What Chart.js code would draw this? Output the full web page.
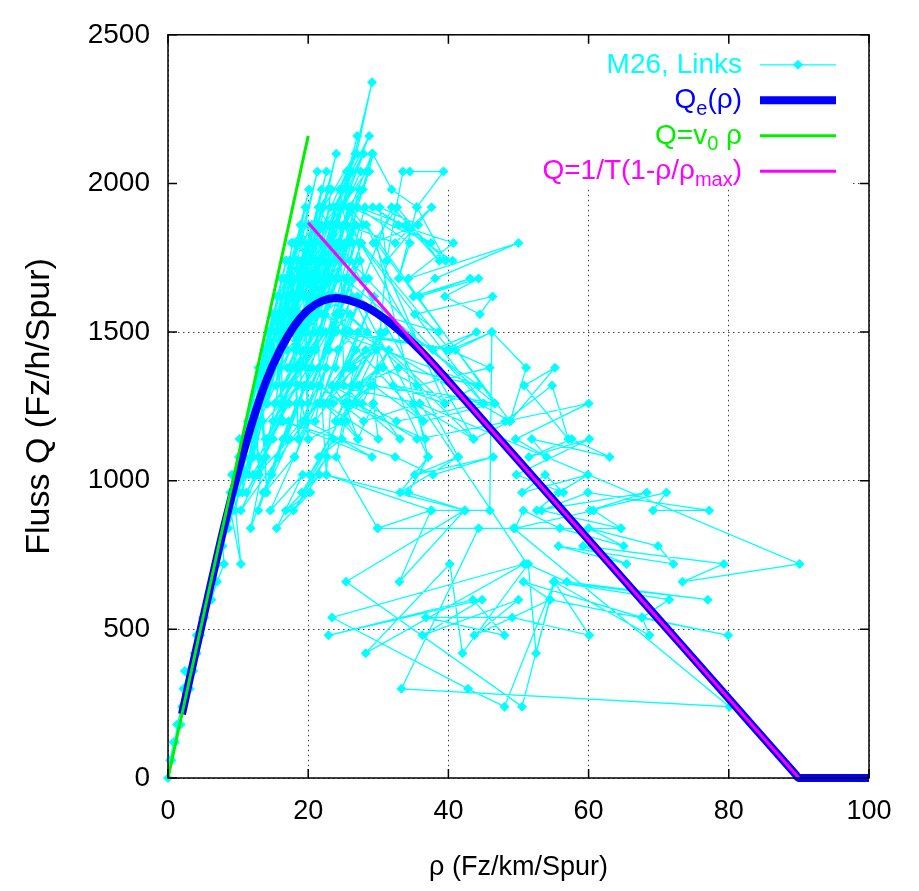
<!DOCTYPE html>
<html>
<head>
<meta charset="utf-8">
<script src="https://cdn.jsdelivr.net/npm/chart.js@4.4.1/dist/chart.umd.min.js"></script>
<style>
  html, body { margin: 0; padding: 0; background: #fff; }
  #wrap { width: 919px; height: 891px; }
</style>
</head>
<body>
<div id="wrap"><canvas id="fd" width="919" height="891"></canvas></div>
<script>
// M26, Links: measured (rho, Q) pairs, in time order
const m26Links = [
  // free flow, rising
  [0,0],[0.5,60],[1.0,120],[1.3,180],[2.0,240],[3.1,300],[2.4,360],[3.6,360],[4.1,420],[4.1,480],
  [5.2,540],[5.8,600],[6.4,660],[5.9,600],[7.0,720],[7.6,780],[6.9,720],[8.3,840],[8.9,900],[10.4,720],
  [9.4,960],[8.8,900],[9.8,1020],[9.1,1020],[10.5,1080],[10.2,1140],[11.2,1140],[11.8,1200],[10.9,1140],[12.5,1260],
  [13.0,1020],[12.2,1260],[13.4,1320],[14.1,960],[13.1,1320],[14.2,1380],[13.7,1380],[15.0,1440],[14.5,1500],[15.8,1500],
  [15.2,1560],[16.4,1200],[16.0,1560],[16.9,1620],[15.9,1620],[17.5,1740],[16.7,1680],[17.9,1680],[18.6,1140],[17.3,1740],
  [18.5,1740],[19.1,1260],[18.2,1800],[19.5,1800],[20.0,1140],[19.0,1860],[20.3,1740],[21.5,1920],[20.6,1860],[19.8,1680],
  [8.9,960],[11.4,1200],[9.6,1020],[12.3,1260],[10.1,1080],[12.9,1380],[10.8,1140],[13.7,1440],[11.5,1200],[14.3,1500],
  [12.1,1260],[14.9,1560],[12.7,1320],[15.6,1620],[13.3,1380],[16.2,1680],[13.9,1440],[16.9,1740],[14.5,1500],[15.1,1560],
  [13.2,1260],[11.9,1140],[14.0,1320],[12.6,1200],[10.9,1020],[13.3,1200],[9.9,960],[12.2,1080],[11.0,1020],[14.4,1380],
  // near capacity
  [18.0,1620],[19.2,1680],[20.4,1740],[21.0,1620],[19.6,1560],[22.1,1680],[23.0,1740],[21.8,1800],[20.8,1800],[22.5,1860],
  [23.3,1980],[24.5,1980],[25.7,2040],[27.0,2160],[23.8,1860],[24.2,1860],[29.1,2340],[26.9,2100],[22.0,1800],[21.0,1620],
  [22.6,1020],[23.4,1320],[25.2,1260],[27.1,1140],[29.3,1260],[31.2,1740],[33.5,2040],[34.5,2040],[39.3,2040],[35.5,1920],
  [31.9,1980],[29.2,2100],[28.7,2040],[27.0,1920],[24.0,1680],[22.0,1560],[23.5,1620],[24.6,1560],[25.5,1680],[26.4,1800],
  [25.0,1860],[26.0,1920],[27.8,1860],[26.5,1680],[25.0,1500],[23.9,1380],[22.6,1380],[21.6,1320],[20.0,1260],[19.8,1380],
  [18.4,1440],[17.8,1500],[16.8,1500],[18.9,1560],[20.2,1620],[21.4,1560],[22.8,1680],[24.4,1740],[25.8,1800],[24.5,1980],
  [23.3,1980],[21.5,1920],[22.9,1860],[24.0,1920],
  [17.0,1680],[19.8,1740],[18.2,1620],[21.2,1740],[17.6,1800],[20.0,1860],[18.7,1680],[22.3,1800],[19.4,1620],[21.8,1920],
  [20.7,1680],[23.6,1800],[19.9,1560],[22.6,1620],[18.8,1800],[21.1,1860],[16.6,1560],[20.8,1680],[16.2,1500],[19.3,1440],
  [15.6,1560],[18.6,1500],
  // stop and go
  [10.8,1080],[15.6,1620],[12.6,1200],[17.8,1800],[13.9,1320],[19.6,1920],[15.0,1380],[18.4,1740],[14.2,1260],[20.5,1860],
  [16.3,1440],[21.9,1980],[17.1,1500],[22.6,2040],[16.9,1440],[21.4,1860],[18.2,1560],[24.0,2100],[19.5,1620],[23.1,1920],
  [18.8,1500],[22.8,1800],[17.4,1380],[21.2,1740],[19.9,1500],[24.6,1920],[20.8,1560],[25.3,1860],[21.7,1620],[26.2,2040],
  [22.4,1680],[25.9,1920],[20.9,1440],[24.8,1740],[22.0,1500],[27.3,1980],[23.2,1620],[26.8,1860],[21.5,1380],[25.6,1680],
  [23.9,1560],[28.1,1920],[24.7,1620],[27.6,1800],[22.9,1440],[26.3,1620],[20.3,1320],[23.7,1500],[19.2,1200],[22.5,1380],
  [18.1,1080],[21.3,1260],[16.9,1140],[20.6,1380],[15.7,1080],[19.4,1320],[14.8,1020],[18.3,1260],[13.6,960],[17.2,1200],
  [12.9,900],[16.4,1140],[11.8,840],[15.3,1260],[17.9,1620],[22.2,1920],[26.7,2100],[23.0,1860],[28.3,2040],[25.5,2040],
  [21.0,1800],[27.8,1980],[24.1,1800],[29.1,2100],[25.0,1740],[20.4,1560],[23.4,1680],[19.0,1380],[24.3,1560],[18.5,1320],
  [11.5,1140],[16.8,1740],[12.8,1260],[18.9,1860],[13.5,1380],[17.7,1680],[14.6,1440],[20.1,1980],[15.3,1500],[19.0,1740],
  [14.9,1380],[18.1,1620],[16.1,1560],[21.3,2040],[17.3,1620],[20.4,1800],[16.5,1440],[22.8,1980],[18.6,1620],[21.9,1860],
  [17.5,1500],[23.4,1860],[19.3,1560],[22.4,1740],[18.1,1440],[24.9,1980],[20.0,1620],[23.8,1740],[18.9,1380],[25.7,1920],
  [21.1,1560],[24.3,1680],[19.7,1380],[26.6,1860],[22.1,1560],[25.1,1620],[20.6,1320],[27.4,1740],[23.3,1500],[26.0,1560],
  [21.7,1260],[28.6,1680],[24.2,1440],[27.1,1500],[22.8,1260],[29.4,1620],[25.4,1380],[28.2,1440],[23.9,1200],[30.3,1500],
  [26.2,1320],[24.8,1140],[21.5,1080],[25.9,1260],[20.2,1020],[23.6,1140],[19.1,960],[22.7,1080],[17.9,900],[21.6,1020],
  [16.8,900],[20.3,960],[15.5,840],[19.2,1020],[14.6,900],[18.0,1080],[13.8,960],[17.4,1140],[12.7,1020],[16.9,1260],
  [14.1,1140],[18.7,1380],[15.2,1260],[20.9,1500],[16.4,1320],[22.2,1620],[17.0,1380],[23.1,1680],[18.3,1440],[24.6,1800],
  [19.1,1500],[25.2,1800],[19.9,1620],[24.4,1860],[20.5,1680],[26.1,1980],[21.6,1740],[27.5,2040],[22.7,1800],[28.7,2160],
  [23.7,1920],[27.9,2100],[22.0,1740],[26.4,1920],[20.6,1620],[25.1,1740],[19.6,1500],[23.9,1620],[18.4,1380],[22.5,1500],
  [17.2,1320],[21.1,1440],[16.0,1260],[19.8,1440],[15.0,1200],[18.5,1320],[13.9,1140],[17.3,1260],[12.9,1080],[16.1,1200],
  [12.1,1020],[15.0,1140],[11.2,960],[14.0,1080],[10.4,900],
  [26.8,1440],[22.3,1260],[28.4,1500],[24.1,1320],[29.7,1440],[25.8,1380],[31.0,1500],[27.3,1320],[23.6,1260],[30.1,1380],
  [26.0,1260],[28.9,1320],[24.7,1200],[31.5,1440],[27.7,1260],[25.1,1320],
  // breakdown
  [24.6,1800],[41.4,1080],[26.0,1740],[45.0,1260],[27.4,1800],[43.6,1140],[23.0,1620],[39.5,1260],[28.3,1860],[46.6,1260],
  [25.2,1680],[37.1,1080],[29.7,1800],[48.8,1200],[22.4,1560],[36.4,1200],[27.0,1620],[44.3,1320],[24.0,1500],[40.2,1440],
  // congested, middle
  [25.5,1860],[32.4,1800],[37.6,1920],[31.2,1740],[30.2,1920],[35.7,1860],[29.3,1800],[32.7,1920],[38.7,1740],[34.0,1860],
  [27.0,1920],[34.5,1800],[32.9,1680],[35.5,1920],[39.6,1740],[31.9,1920],[28.0,1680],[26.0,1920],[37.5,1800],[29.2,1920],
  [40.6,1740],[32.9,1860],[40.7,1800],[34.3,1680],[50.0,1800],[38.1,1680],[35.0,1620],[43.1,1680],[35.9,1620],[44.3,1680],
  [39.5,1620],[44.5,1560],[46.3,1620],[35.2,1560],[38.6,1500],[30.0,1560],[37.8,1440],[44.0,1500],[39.8,1440],[26.0,1500],
  [41.0,1440],[46.2,1500],[40.2,1440],[45.9,1380],[35.5,1320],[30.7,1380],[27.1,1320],[32.9,1380],[44.3,1320],[39.5,1260],
  [32.1,1320],[46.6,1260],[36.4,1200],[29.3,1320],[45.0,1260],[32.6,1200],[23.4,1320],[35.9,1260],[27.9,1200],[21.6,1320],
  [25.2,1260],[36.7,1140],[35.0,1260],[43.6,1140],[48.8,1200],[35.5,1140],[26.9,1260],[33.1,1140],[29.3,1260],[30.0,1140],
  [22.2,1260],[27.1,1140],[25.5,1200],[20.0,1140],[19.1,1260],[18.6,1140],[19.8,1200],[29.1,1080],[16.5,1200],[32.4,1080],
  [37.8,1020],[46.4,1080],[35.2,1020],[41.4,1080],[33.1,960],[37.1,1080],[34.3,960],[42.4,900],[22.6,1020],[37.6,900],
  [45.9,900],
  // congested, dense traffic
  [46.2,1500],[51.1,1380],[48.8,1200],[55.2,1380],[50.8,1320],[57.1,1140],[54.8,1320],[48.1,1200],[60.0,1260],[49.6,1140],
  [54.0,1080],[51.9,1140],[63.0,1080],[57.6,1140],[51.5,1080],[60.1,1140],[49.7,1020],[56.4,960],[53.8,1020],[50.5,960],
  [59.9,1020],[55.7,960],[52.6,900],[68.3,960],[60.2,900],[71.1,960],[69.2,900],[77.2,900],[59.9,960],[53.3,900],
  [64.6,840],[60.7,900],[49.5,840],[50.7,900],[55.9,840],[65.0,780],[60.0,840],[69.9,780],[72.1,720],[55.7,780],
  [65.4,720],[59.2,780],[79.3,720],[73.4,660],[90.1,720],[35.9,1260],[51.2,720],[56.9,660],[77.0,600],[55.0,660],
  [71.5,600],[67.6,540],[50.7,660],[54.5,600],[79.9,480],[67.6,540],[68.7,480],[55.1,660],[60.1,480],[49.1,540],
  [36.8,540],[48.0,480],[43.5,600],[22.9,480],[44.8,600],[36.3,480],[50.0,600],[43.7,480],[54.5,600],[52.5,420],
  [51.4,720],[42.0,420],[40.2,720],[28.2,420],[50.8,720],[23.4,540],[42.8,300],[48.0,240],[55.1,660],[50.5,240],
  [25.4,660],[42.3,900],[33.0,660],[37.5,900],[29.9,840],[44.3,840],[33.3,300],[80.1,240],[49.3,840],[64.6,840],
  // recovery
  [29.9,840],[24.0,1080],[26.5,1380],[21.0,1200],[23.0,1440],[19.5,1320],[22.0,1500],[18.0,1380],[20.5,1440],[17.0,1440],
  [19.0,1500],[16.0,1380],[17.5,1560],[15.4,1320],[16.8,1620],[14.0,1260],[15.8,1440],[13.0,1200],[14.6,1380],[12.0,1080],
  [13.5,1200],[11.5,1020],[12.4,1140],[10.6,960],[11.0,1080],[9.6,900],[10.1,960],[8.6,840],[9.2,900],[7.8,780],
  [8.0,720],[7.0,660],[6.2,600],[5.0,540],[4.6,480],[3.8,420],[3.0,360],[2.2,300],[1.8,180],[0.8,120],[0.3,60]
];

// Q_e(rho): equilibrium flow curve
const qeRho  = [2, 4, 6, 8, 10, 12, 14, 16, 18, 20, 22, 24, 26, 28, 30, 32, 34, 36, 38, 40, 50, 60, 70, 80, 89.5, 90, 100];
const qeFlow = [215, 430, 640, 845, 1030, 1195, 1335, 1440, 1520, 1575, 1605, 1615, 1606, 1588, 1560, 1525, 1484, 1438, 1388, 1335, 1068, 801, 534, 267, 13, 0, 0];

// Q = v0 rho
const freeRho  = [0, 20];
const freeFlow = [0, 2160];

// Q = 1/T (1 - rho/rho_max)
const congRho  = [20, 90];
const congFlow = [1868, 0];

const legendLabels = [
  [{ t: 'M26, Links' }],
  [{ t: 'Q' }, { t: 'e', sub: true }, { t: '(ρ)' }],
  [{ t: 'Q=v' }, { t: '0', sub: true }, { t: ' ρ' }],
  [{ t: 'Q=1/T(1-ρ/ρ' }, { t: 'max', sub: true }, { t: ')' }]
];

const pairs = (xs, ys) => xs.map((x, i) => ({ x: x, y: ys[i] }));

const sans = '"Liberation Sans", Arial, sans-serif';
const mainFont = '28px ' + sans;
const subFont = '20px ' + sans;

// gnuplot style key with subscripts, right aligned
const keyPlugin = {
  id: 'keyPlugin',
  afterDraw(chart) {
    const { ctx, chartArea } = chart;
    const textRight = chartArea.right - 127;
    const lineStart = chartArea.right - 109;
    const lineEnd = chartArea.right - 33;
    ctx.save();
    ctx.textAlign = 'left';
    ctx.textBaseline = 'middle';
    chart.data.datasets.forEach((ds, i) => {
      const y = chartArea.top + 30 + i * 35.5;
      const parts = legendLabels[i];
      let w = 0;
      parts.forEach(p => { ctx.font = p.sub ? subFont : mainFont; w += ctx.measureText(p.t).width; });
      let x = textRight - w;
      ctx.fillStyle = ds.borderColor;
      parts.forEach(p => {
        ctx.font = p.sub ? subFont : mainFont;
        ctx.fillText(p.t, x, p.sub ? y + 9 : y);
        x += ctx.measureText(p.t).width;
      });
      ctx.strokeStyle = ds.borderColor;
      ctx.lineWidth = ds.borderWidth;
      ctx.beginPath();
      ctx.moveTo(lineStart, y);
      ctx.lineTo(lineEnd, y);
      ctx.stroke();
      if (ds.pointRadius > 0) {
        const cx = (lineStart + lineEnd) / 2, r = ds.pointRadius;
        ctx.beginPath();
        ctx.moveTo(cx, y - r); ctx.lineTo(cx + r, y); ctx.lineTo(cx, y + r); ctx.lineTo(cx - r, y);
        ctx.closePath();
        ctx.fill();
      }
    });
    ctx.restore();
  }
};

// hide grid behind the key, then draw border with inward mirrored ticks
const framePlugin = {
  id: 'framePlugin',
  beforeDatasetsDraw(chart) {
    const { ctx, chartArea, scales } = chart;
    ctx.save();
    ctx.fillStyle = '#fff';
    const x2 = scales.x.getPixelForValue(97.5);
    const y2 = scales.y.getPixelForValue(2000) + 4;
    ctx.fillRect(chartArea.left + 1, chartArea.top + 1, x2 - chartArea.left - 1, y2 - chartArea.top - 1);
    ctx.restore();
  },
  afterDatasetsDraw(chart) {
    const { ctx, chartArea: a, scales } = chart;
    ctx.save();
    ctx.strokeStyle = '#000';
    ctx.lineWidth = 1.5;
    ctx.strokeRect(a.left, a.top, a.right - a.left, a.bottom - a.top);
    const len = 9;
    ctx.beginPath();
    scales.y.ticks.forEach(t => {
      const y = scales.y.getPixelForValue(t.value);
      ctx.moveTo(a.left, y); ctx.lineTo(a.left + len, y);
      ctx.moveTo(a.right, y); ctx.lineTo(a.right - len, y);
    });
    scales.x.ticks.forEach(t => {
      const x = scales.x.getPixelForValue(t.value);
      ctx.moveTo(x, a.bottom); ctx.lineTo(x, a.bottom - len);
      ctx.moveTo(x, a.top); ctx.lineTo(x, a.top + len);
    });
    ctx.stroke();
    ctx.restore();
  }
};

new Chart(document.getElementById('fd'), {
  type: 'scatter',
  data: {
    datasets: [
      {
        label: 'M26, Links',
        data: m26Links.map(p => ({ x: p[0], y: p[1] })),
        showLine: true,
        borderColor: '#00ffff',
        backgroundColor: '#00ffff',
        borderWidth: 1.3,
        pointStyle: 'rectRot',
        pointRadius: 5,
        pointBorderWidth: 0,
        pointBackgroundColor: '#00ffff',
        clip: false,
        order: 4
      },
      {
        label: 'Qe(ρ)',
        data: pairs(qeRho, qeFlow),
        showLine: true,
        borderColor: '#0000ff',
        borderWidth: 8,
        pointRadius: 0,
        cubicInterpolationMode: 'monotone',
        clip: false,
        order: 3
      },
      {
        label: 'Q=v0 ρ',
        data: pairs(freeRho, freeFlow),
        showLine: true,
        borderColor: '#00f000',
        borderWidth: 3,
        pointRadius: 0,
        clip: false,
        order: 2
      },
      {
        label: 'Q=1/T(1-ρ/ρmax)',
        data: pairs(congRho, congFlow),
        showLine: true,
        borderColor: '#ff00ff',
        borderWidth: 3,
        pointRadius: 0,
        clip: false,
        order: 1
      }
    ]
  },
  options: {
    responsive: false,
    animation: false,
    devicePixelRatio: 1,
    layout: { padding: { top: 22, right: 50, left: 0, bottom: 0 } },
    plugins: {
      legend: { display: false },
      tooltip: { enabled: false }
    },
    scales: {
      x: {
        type: 'linear',
        min: 0,
        max: 100,
        afterFit(scale) { scale.height = 113; },
        ticks: {
          stepSize: 20,
          padding: 17,
          color: '#000',
          font: { family: sans, size: 27 },
          callback: v => String(v)
        },
        grid: { color: 'rgba(0,0,0,0.75)', lineWidth: 1, drawTicks: false },
        border: { display: false, dash: [1.5, 3.5] },
        title: {
          display: true,
          text: 'ρ (Fz/km/Spur)',
          color: '#000',
          font: { family: sans, size: 27 },
          padding: { top: 0, bottom: 7 }
        }
      },
      y: {
        type: 'linear',
        min: 0,
        max: 2500,
        afterFit(scale) { scale.width = 168; },
        ticks: {
          stepSize: 500,
          padding: 18,
          color: '#000',
          font: { family: sans, size: 28 },
          callback: v => String(v)
        },
        grid: { color: 'rgba(0,0,0,0.75)', lineWidth: 1, drawTicks: false },
        border: { display: false, dash: [1.5, 3.5] },
        title: {
          display: true,
          text: 'Fluss Q (Fz/h/Spur)',
          color: '#000',
          font: { family: sans, size: 34 },
          padding: { top: 19, bottom: 0 }
        }
      }
    }
  },
  plugins: [framePlugin, keyPlugin]
});
</script>
</body>
</html>
